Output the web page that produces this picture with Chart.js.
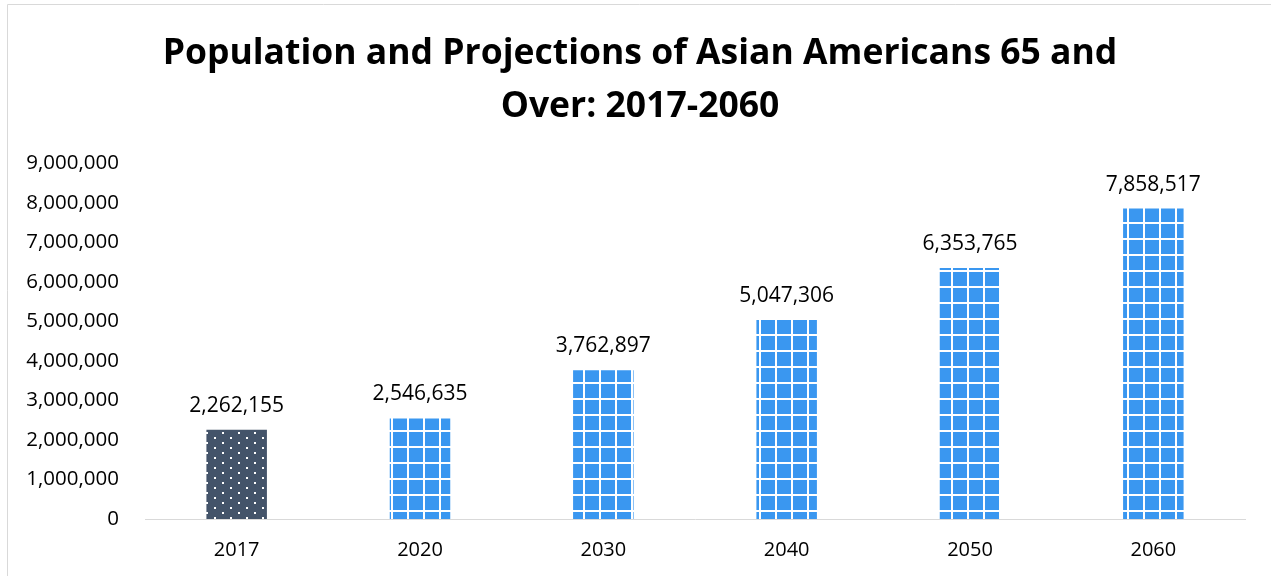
<!DOCTYPE html>
<html>
<head>
<meta charset="utf-8">
<script src="https://cdn.jsdelivr.net/npm/chart.js@4/dist/chart.umd.min.js"></script>
<style>
	html, body { margin: 0; padding: 0; background: #fff; }
	#wrap { width: 1271px; height: 576px; position: relative; }
</style>
</head>
<body>
<div id="wrap"><canvas id="chart-asian-65"></canvas></div>
<script>
// Chart data
const YEARS = ["2017", "2020", "2030", "2040", "2050", "2060"];
const POPULATION = [2262155, 2546635, 3762897, 5047306, 6353765, 7858517];
const TITLE_LINES = ["Population and Projections of Asian Americans 65 and", "Over: 2017-2060"];
const Y_MAX = 9000000;
const Y_STEP = 1000000;

const FONT = "'Open Sans', 'Noto Sans', sans-serif";

//---------------------------------------------------------
// Fill patterns
//---------------------------------------------------------
const makePattern = (w, h, draw) => {
	const c = document.createElement("canvas");
	c.width = w;
	c.height = h;
	draw(c.getContext("2d"));
	return document.createElement("canvas").getContext("2d").createPattern(c, "repeat");
};

// 2017: slate with staggered white dots
const DOTS = makePattern(16, 10, (g) => {
	g.fillStyle = "#44546A";
	g.fillRect(0, 0, 16, 10);
	g.fillStyle = "#ffffff";
	g.fillRect(14, 2, 2, 2);
	g.fillRect(6, 7, 2, 2);
});

// projections: blue with white grid
const GRID = makePattern(16, 16, (g) => {
	g.fillStyle = "#3A97F0";
	g.fillRect(0, 0, 16, 16);
	g.fillStyle = "#ffffff";
	g.fillRect(7, 0, 2, 16);
	g.fillRect(0, 14, 16, 2);
});

const fmt = (v) => v.toLocaleString("en-US");

// value labels above bars
const barLabels = {
	id: "barLabels",
	afterDatasetsDraw(chart) {
		const { ctx } = chart;
		const meta = chart.getDatasetMeta(0);
		ctx.save();
		ctx.font = "21px " + FONT;
		ctx.fillStyle = "#000";
		ctx.textAlign = "center";
		ctx.textBaseline = "middle";
		meta.data.forEach((bar, i) => {
			ctx.fillText(fmt(POPULATION[i]), bar.x, bar.y - 24);
		});
		ctx.restore();
	},
};

// outer frame (left + top edges visible), title centred on the whole canvas
const frame = {
	id: "frame",
	afterLayout(chart) {
		if (chart.titleBlock) {
			chart.titleBlock.left = 0;
			chart.titleBlock.right = 1280;
		}
	},
	beforeDraw(chart) {
		const { ctx } = chart;
		ctx.save();
		ctx.strokeStyle = "#d9d9d9";
		ctx.lineWidth = 1;
		ctx.beginPath();
		ctx.moveTo(7.5, 576);
		ctx.lineTo(7.5, 4.5);
		ctx.lineTo(1271, 4.5);
		ctx.stroke();
		ctx.restore();
	},
};

const CHART_DATA = {
	labels: YEARS,
	datasets: [
		{
			data: POPULATION,
			backgroundColor: YEARS.map((y, i) => (i === 0 ? DOTS : GRID)),
			borderWidth: 0,
			categoryPercentage: 1,
			barPercentage: 0.33,
		},
	],
};

const CHART_CONFIG = {
	type: "bar",
	data: CHART_DATA,
	options: {
		responsive: true,
		maintainAspectRatio: false,
		animation: false,
		devicePixelRatio: 1,
		layout: {
			padding: { left: 10, right: 26, top: 0, bottom: 3 },
		},
		plugins: {
			legend: { display: false },
			tooltip: { enabled: false },
			title: {
				display: true,
				text: TITLE_LINES,
				color: "#000",
				font: { family: FONT, size: 35.5, weight: "bold", lineHeight: 1.5 },
				padding: { top: 27, bottom: 30 },
			},
		},
		scales: {
			x: {
				grid: { display: false },
				border: { display: true, color: "#d9d9d9", width: 1 },
				ticks: {
					color: "#000",
					font: { family: FONT, size: 20 },
					padding: 11,
				},
			},
			y: {
				min: 0,
				max: Y_MAX,
				grid: { display: false },
				border: { display: false },
				afterFit(scale) {
					scale.width = 135;
				},
				ticks: {
					stepSize: Y_STEP,
					color: "#000",
					padding: 18,
					font: { family: FONT, size: 20.5 },
					callback: (v) => fmt(v),
				},
			},
		},
	},
	plugins: [frame, barLabels],
};

new Chart(document.getElementById("chart-asian-65"), CHART_CONFIG);
</script>
</body>
</html>
